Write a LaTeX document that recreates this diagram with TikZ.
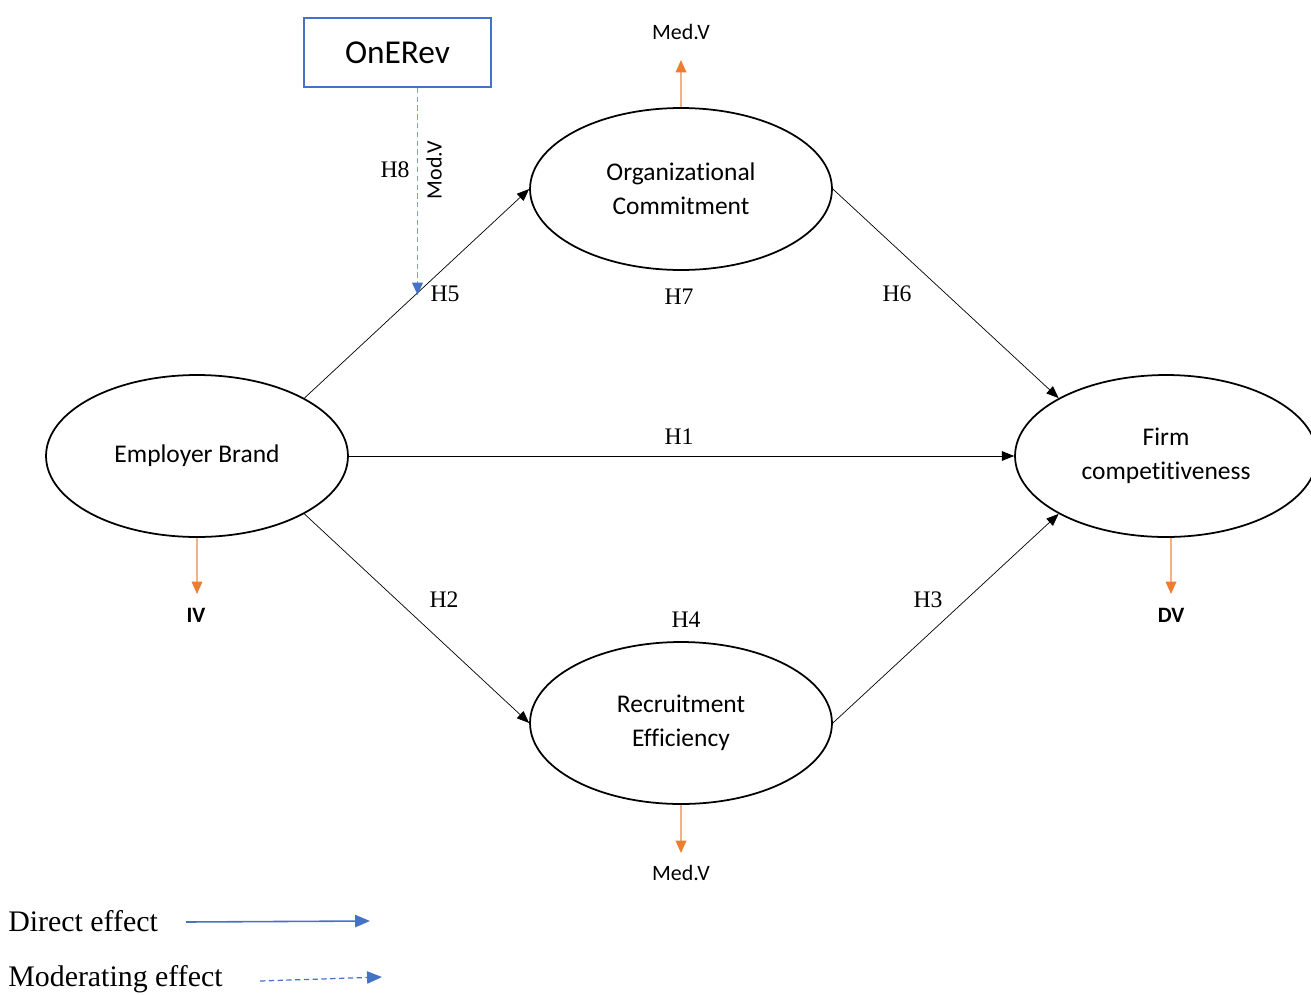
\documentclass[tikz,border=0pt]{standalone}
\usepackage{fontspec}
\setmainfont{Carlito}[Ligatures=NoCommon]
\newfontfamily\timesfont{Liberation Serif}
\usetikzlibrary{shapes.geometric,arrows.meta,calc}
\definecolor{linkblue}{HTML}{4472C4}
\definecolor{dashblue}{HTML}{7F9FD8}
\definecolor{rolelight}{HTML}{F4B183}
\definecolor{roledark}{HTML}{ED7D31}

\begin{document}
\begin{tikzpicture}[x=0.02cm,y=-0.02cm,
      construct/.style={ellipse,draw,line width=1pt,minimum width=6.04cm,minimum height=3.24cm,
        inner sep=0pt,align=center,font=\fontsize{14.5}{19.5}\selectfont},
      modbox/.style={draw=linkblue,line width=1pt,minimum width=3.74cm,minimum height=1.38cm,
        font=\fontsize{19}{22}\selectfont},
      effect/.style={-{Triangle[length=7pt,width=5.5pt]},line width=0.4pt},
      modeffect/.style={dashblue,dash pattern=on 3pt off 2pt,line width=0.8pt,
        -{Triangle[length=7pt,width=6pt,color=linkblue]}},
      role/.style={rolelight,line width=0.9pt,-{Triangle[length=7pt,width=6pt,color=roledark]}},
      hyp/.style={inner sep=1pt,font=\timesfont\fontsize{13.5}{16}\selectfont},
      rolelabel/.style={inner sep=1pt,font=\fontsize{12.5}{15}\selectfont},
      legend/.style={anchor=west,inner sep=0pt,font=\timesfont\fontsize{17}{19}\selectfont}
      ]
      \useasboundingbox (0,0) rectangle (1311,994);

      % constructs
      \node[construct] (eb) at (197,456) {Employer Brand};
      \node[construct] (oc) at (681,189) {Organizational\\Commitment};
      \node[construct] (re) at (681,723) {Recruitment\\Efficiency};
      \node[construct] (fc) at (1166,456) {Firm\\competitiveness};
      \node[modbox] (onerev) at (397.5,52.5) {OnERev};

      % direct effects
      \draw[effect] (eb.north east) -- (oc.west);
      \draw[effect] (eb.south east) -- (re.west);
      \draw[effect] (eb.east) -- (fc.west);
      \draw[effect] (oc.east) -- (fc.north west);
      \draw[effect] (re.east) -- (fc.south west);

      % moderating effect
      \coordinate (modtop) at ($(onerev.south)+(20,0)$);
      \coordinate (modend) at ($(eb.north east)!0.493!(oc.west)$);
      \draw[modeffect] (modtop) -- (modtop |- modend);
      \node[rolelabel,rotate=90] (modv) at (434,170) {Mod.V};

      % roles
      \coordinate (octop) at (681,60);
      \coordinate (rebot) at (681,853);
      \coordinate (ebbot) at (197,594);
      \coordinate (fcbot) at (1171,594);
      \draw[role] (oc.north) -- (octop);
      \draw[role] (re.south) -- (rebot);
      \draw[role] (eb.south) -- (ebbot);
      \draw[role] (fc.south -| fcbot) -- (fcbot);
      \node[rolelabel] (medtop) at (681,32) {Med.V};
      \node[rolelabel] (medbot) at (681,873) {Med.V};
      \node[rolelabel] (iv) at (196,615) {\bfseries IV};
      \node[rolelabel] (dv) at (1171,615) {\bfseries DV};

      % hypotheses
      \node[hyp] (h1) at (679,437) {H1};
      \node[hyp] (h2) at (444,600) {H2};
      \node[hyp] (h3) at (928,600) {H3};
      \node[hyp] (h4) at (686,620) {H4};
      \node[hyp] (h5) at (445,294) {H5};
      \node[hyp] (h6) at (897,294) {H6};
      \node[hyp] (h7) at (679,297) {H7};
      \node[hyp] (h8) at (395,170) {H8};

      % legend
      \node[legend] (direct) at (8,921) {Direct effect};
      \node[legend] (moder) at (8,979) {Moderating effect};
      \coordinate (d1) at (186,922);
      \coordinate (d2) at (370,921);
      \coordinate (m1) at (260,981);
      \coordinate (m2) at (382,977);
      \draw[linkblue,line width=0.9pt,-{Triangle[length=8.5pt,width=7pt]}] (d1) -- (d2);
      \draw[linkblue,dash pattern=on 3pt off 2pt,line width=0.7pt,-{Triangle[length=8.5pt,width=7pt]}] (m1) -- (m2);
\end{tikzpicture}
\end{document}
